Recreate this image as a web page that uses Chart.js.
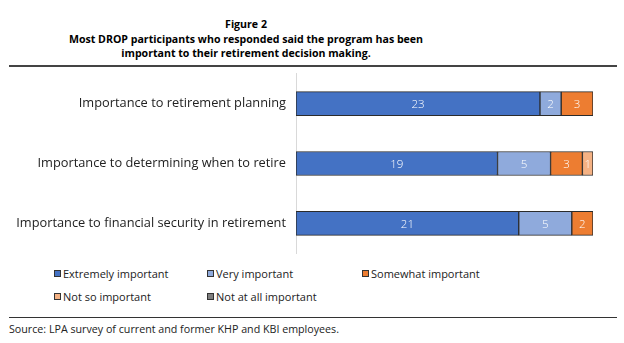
<!DOCTYPE html>
<html>
<head>
<meta charset="utf-8">
<script src="https://cdn.jsdelivr.net/npm/chart.js@4"></script>
<style>
    body { margin: 0; width: 624px; height: 343px; background: #fff; font-family: "Open Sans", sans-serif; color: #000; position: relative; overflow: hidden; }
    .title { position: absolute; left: 0; top: 17px; width: 492px; text-align: center; font-weight: bold; font-size: 10.6px; line-height: 14.7px; }
    .rule { position: absolute; left: 9px; width: 608px; height: 2px; background: #444; }
    #chart-wrap { position: absolute; left: 0; top: 64px; width: 624px; height: 199px; }
    .legend { position: absolute; font-size: 11px; color: #222; white-space: nowrap; }
    .legend span.box { display: inline-block; width: 5px; height: 5px; border: 1px solid #333; margin-right: 2px; vertical-align: 1px; }
    .source { position: absolute; left: 9px; top: 322px; font-size: 10.7px; color: #222; }
</style>
</head>
<body>
<div class="title">Figure 2<br>Most DROP participants who responded said the program has been<br>important to their retirement decision making.</div>
<div id="chart-wrap"><canvas id="chart"></canvas></div>
<div class="rule" style="top:65px"></div>
<div id="legend"></div>
<div class="rule" style="top:317px; height:1px; background:#333"></div>
<div class="source">Source: LPA survey of current and former KHP and KBI employees.</div>
<script>
// Chart data
const categories = [
    'Importance to retirement planning',
    'Importance to determining when to retire',
    'Importance to financial security in retirement'
];
const seriesNames = ['Extremely important', 'Very important', 'Somewhat important', 'Not so important', 'Not at all important'];
const extremely = [23, 19, 21];
const very = [2, 5, 5];
const somewhat = [3, 3, 2];
const notSo = [0, 1, 0];
const notAtAll = [0, 0, 0];
const seriesColors = ['#4472C4', '#8FAADC', '#ED7D31', '#F4B183', '#7F7F7F'];

// Legend positions (column x, row y)
const legendSpots = [[54, 266], [207, 266], [362, 266], [54, 289], [207, 289]];

function buildLegend() {
    const container = document.getElementById('legend');
    container.innerHTML = seriesNames.map((name, i) => `
        <div class="legend" style="left:${legendSpots[i][0]}px; top:${legendSpots[i][1]}px">
            <span class="box" style="background:${seriesColors[i]}"></span>${name}
        </div>
    `).join('');
}

// Draw segment values in the middle of each bar piece
const segmentLabels = {
    id: 'segmentLabels',
    afterDatasetsDraw(chart) {
        const ctx = chart.ctx;
        ctx.save();
        ctx.font = '300 11.5px "Open Sans", sans-serif';
        ctx.fillStyle = '#fff';
        ctx.textAlign = 'center';
        ctx.textBaseline = 'middle';
        chart.data.datasets.forEach((ds, di) => {
            const meta = chart.getDatasetMeta(di);
            meta.data.forEach((bar, i) => {
                const v = ds.data[i];
                if (!v) return;
                ctx.fillText(String(v), (bar.x + bar.base) / 2, bar.y + 1);
            });
        });
        ctx.restore();
    }
};

function createChart() {
    const ctx = document.getElementById('chart').getContext('2d');
    const values = [extremely, very, somewhat, notSo, notAtAll];
    new Chart(ctx, {
        type: 'bar',
        data: {
            labels: categories,
            datasets: seriesNames.map((name, i) => ({
                label: name,
                data: values[i],
                backgroundColor: seriesColors[i],
                borderColor: '#2b2b2b',
                borderWidth: 1,
                borderSkipped: false,
                barThickness: 24
            }))
        },
        options: {
            indexAxis: 'y',
            responsive: true,
            maintainAspectRatio: false,
            animation: false,
            layout: { padding: { left: 0, right: 31, top: 0, bottom: 0 } },
            plugins: {
                legend: { display: false },
                tooltip: { enabled: false }
            },
            scales: {
                x: {
                    stacked: true,
                    display: false,
                    min: 0,
                    max: 28
                },
                y: {
                    stacked: true,
                    grid: { display: false },
                    border: { display: true, color: '#d9d9d9', width: 1 },
                    ticks: {
                        color: '#222',
                        padding: 2,
                        font: { family: '"Open Sans", sans-serif', size: 12.8 }
                    },
                    afterFit(scale) {
                        scale.width = 296;
                    }
                }
            }
        },
        plugins: [segmentLabels]
    });
}

buildLegend();
createChart();
</script>
</body>
</html>
